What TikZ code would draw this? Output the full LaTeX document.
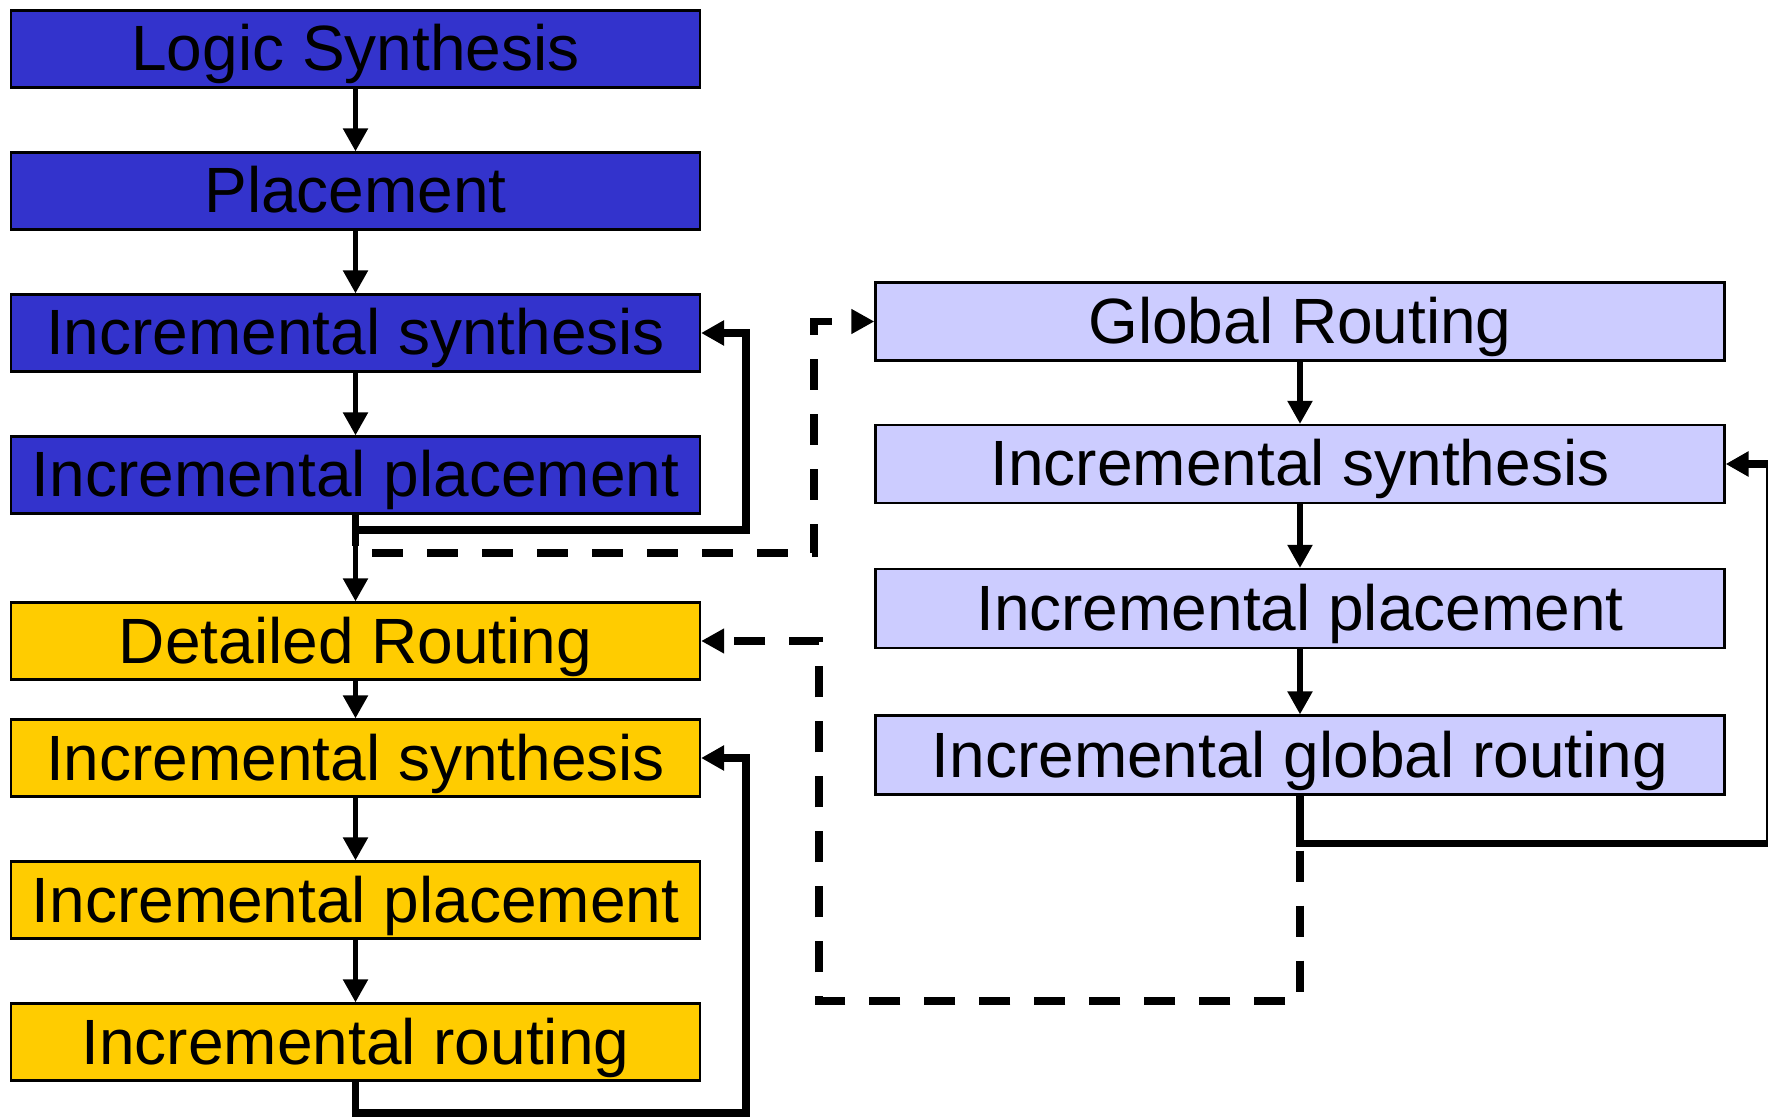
\documentclass[tikz,border=0pt]{standalone}
\usepackage{fontspec}
\setmainfont{Liberation Sans}
\usetikzlibrary{arrows.meta}
\definecolor{deepblue}{HTML}{3333CC}
\definecolor{gold}{HTML}{FFCC00}
\definecolor{lavender}{HTML}{CCCCFF}
\begin{document}
\begin{tikzpicture}[x=0.4pt,y=-0.4pt,
  box/.style={draw=black,line width=0.9pt,inner sep=0pt,
    text height=17.6pt,text depth=0pt,
    font=\fontsize{25.6}{30}\selectfont},
  leftbox/.style={box,minimum width=275.6pt,minimum height=30.8pt},
  rightbox/.style={box,minimum width=339.6pt,minimum height=31.6pt},
  flow/.style={line width=2.1pt,-{Triangle[length=9.2pt,width=9.6pt]}},
  loop/.style={line width=3pt,-{Triangle[length=9.2pt,width=9.6pt]}},
  jump/.style={line width=3pt,dash pattern=on 12.4pt off 9.6pt,
    -{Triangle[length=9.2pt,width=9.4pt]}}]
\useasboundingbox (0,0) rectangle (1768,1118);

% left column: synthesis / placement flow
\node[leftbox,fill=deepblue] (ls)  at (355.5,49)   {Logic Synthesis};
\node[leftbox,fill=deepblue] (pl)  at (355.5,191)  {Placement};
\node[leftbox,fill=deepblue] (is1) at (355.5,333)  {Incremental synthesis};
\node[leftbox,fill=deepblue] (ip1) at (355.5,475)  {Incremental placement};

% left column: detailed routing flow
\node[leftbox,fill=gold] (dr)  at (355.5,641)  {Detailed Routing};
\node[leftbox,fill=gold] (is2) at (355.5,758)  {Incremental synthesis};
\node[leftbox,fill=gold] (ip2) at (355.5,900)  {Incremental placement};
\node[leftbox,fill=gold] (ir)  at (355.5,1042) {Incremental routing};

% right column: global routing flow
\node[rightbox,fill=lavender,minimum height=31.2pt] (gr)  at (1300,321.5) {Global Routing};
\node[rightbox,fill=lavender,minimum height=31.2pt] (is3) at (1300,464)   {Incremental synthesis};
\node[rightbox,fill=lavender] (ip3) at (1300,608.5) {Incremental placement};
\node[rightbox,fill=lavender] (igr) at (1300,755)   {Incremental global routing};

% loop corners
\coordinate (c1) at (746,530);
\coordinate (c2) at (814,553);
\coordinate (c3) at (746,1113);
\coordinate (c4) at (1769.5,843.6);
\coordinate (c5) at (819,1001);

% dashed hand-offs between the flows
\draw[jump] (ip1.south) |- (c2) |- (gr.west);
\draw[jump] (igr.south) |- (c5) |- (dr.east);

% main flow arrows
\draw[flow] (ls.south)  -- (pl.north);
\draw[flow] (pl.south)  -- (is1.north);
\draw[flow] (is1.south) -- (ip1.north);
\draw[flow] (ip1.south) -- (dr.north);
\draw[flow] (dr.south)  -- (is2.north);
\draw[flow] (is2.south) -- (ip2.north);
\draw[flow] (ip2.south) -- (ir.north);
\draw[flow] (gr.south)  -- (is3.north);
\draw[flow] (is3.south) -- (ip3.north);
\draw[flow] (ip3.south) -- (igr.north);

% feedback loops
\draw[loop] (ip1.south) |- (c1) |- (is1.east);
\draw[loop] (ir.south)  |- (c3) |- (is2.east);
\draw[loop] (igr.south) |- (c4) |- (is3.east);
\end{tikzpicture}
\end{document}
